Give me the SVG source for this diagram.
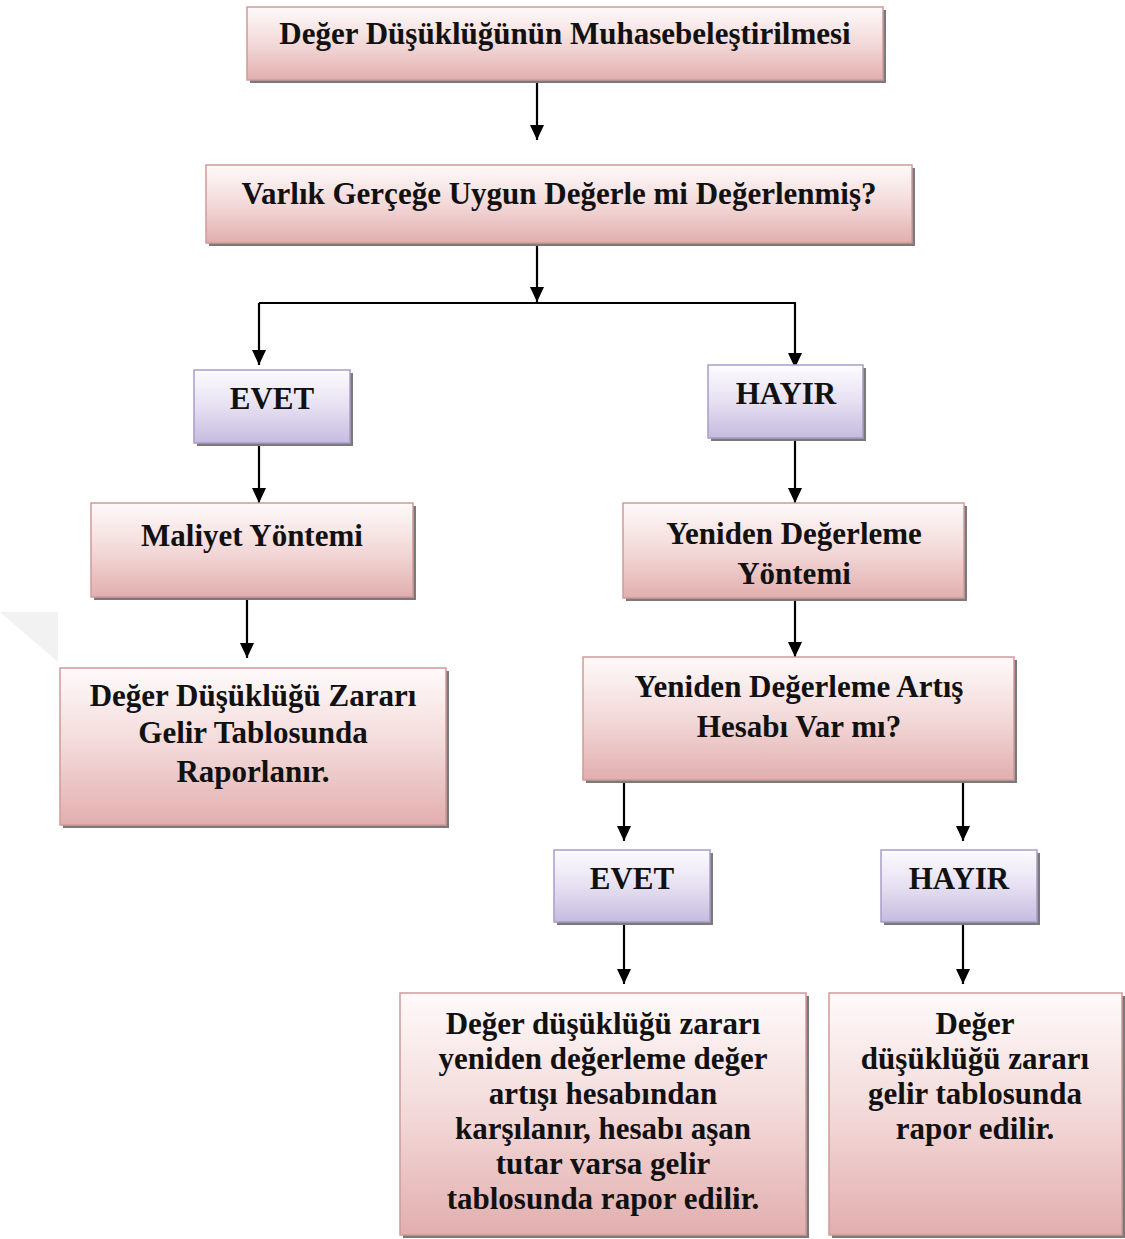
<svg xmlns="http://www.w3.org/2000/svg" width="1125" height="1239" viewBox="0 0 1125 1239">
<defs>
<linearGradient id="gPink" x1="0" y1="0" x2="0" y2="1">
<stop offset="0" stop-color="#fefafa"/>
<stop offset="0.5" stop-color="#f3d9d9"/>
<stop offset="1" stop-color="#e2aeae"/>
</linearGradient>
<linearGradient id="gPurple" x1="0" y1="0" x2="0" y2="1">
<stop offset="0" stop-color="#fdfcff"/>
<stop offset="0.5" stop-color="#e6e0f2"/>
<stop offset="1" stop-color="#c6bbdf"/>
</linearGradient>
<marker id="arr" viewBox="0 0 15 14" refX="15" refY="7" markerWidth="15" markerHeight="14" markerUnits="userSpaceOnUse" orient="auto">
<path d="M0,0 L15,7 L0,14 Z" fill="#000"/>
</marker>
</defs>
<style>
.shadow{fill:#7a7a7a;}
.pink{fill:url(#gPink);stroke:#cf9a9a;stroke-width:1.5;}
.purple{fill:url(#gPurple);stroke:#a99dc8;stroke-width:1.5;}
.t{font-family:"Liberation Serif","Times New Roman",serif;font-weight:bold;font-size:31px;fill:#111;text-anchor:middle;}
.c{fill:none;stroke:#000;stroke-width:2.2;}
</style>
<rect width="1125" height="1239" fill="#fff"/>
<polygon points="0,612 58,612 58,662" fill="#f2f2f2"/>

<g id="connectors">
<line class="c" x1="537" y1="82" x2="537" y2="140" marker-end="url(#arr)"/>
<line class="c" x1="537" y1="245" x2="537" y2="302" marker-end="url(#arr)"/>
<polyline class="c" points="259,303 795,303 795,368" marker-end="url(#arr)"/>
<line class="c" x1="259" y1="303" x2="259" y2="365" marker-end="url(#arr)"/>
<line class="c" x1="259" y1="445" x2="259" y2="503" marker-end="url(#arr)"/>
<line class="c" x1="795" y1="440" x2="795" y2="503" marker-end="url(#arr)"/>
<line class="c" x1="247" y1="598" x2="247" y2="658" marker-end="url(#arr)"/>
<line class="c" x1="795" y1="600" x2="795" y2="657" marker-end="url(#arr)"/>
<line class="c" x1="624" y1="782" x2="624" y2="841" marker-end="url(#arr)"/>
<line class="c" x1="963" y1="782" x2="963" y2="841" marker-end="url(#arr)"/>
<line class="c" x1="624" y1="924" x2="624" y2="984" marker-end="url(#arr)"/>
<line class="c" x1="963" y1="924" x2="963" y2="984" marker-end="url(#arr)"/>
</g>

<g id="n1">
<rect class="shadow" x="250" y="10" width="636" height="73"/>
<rect class="pink" x="247" y="7" width="636" height="73"/>
<text class="t" x="565" y="44">Değer Düşüklüğünün Muhasebeleştirilmesi</text>
</g>
<g id="n2">
<rect class="shadow" x="209" y="168" width="706" height="78"/>
<rect class="pink" x="206" y="165" width="706" height="78"/>
<text class="t" x="559" y="204">Varlık Gerçeğe Uygun Değerle mi Değerlenmiş?</text>
</g>
<g id="n3">
<rect class="shadow" x="197" y="373" width="156" height="73"/>
<rect class="purple" x="194" y="370" width="156" height="73"/>
<text class="t" x="272" y="409">EVET</text>
</g>
<g id="n4">
<rect class="shadow" x="711" y="368" width="155" height="73"/>
<rect class="purple" x="708" y="365" width="155" height="73"/>
<text class="t" x="786" y="404">HAYIR</text>
</g>
<g id="n5">
<rect class="shadow" x="94" y="506" width="322" height="94"/>
<rect class="pink" x="91" y="503" width="322" height="94"/>
<text class="t" x="252" y="546">Maliyet Yöntemi</text>
</g>
<g id="n6">
<rect class="shadow" x="626" y="506" width="341" height="95"/>
<rect class="pink" x="623" y="503" width="341" height="95"/>
<text class="t" x="794" y="544">Yeniden Değerleme</text>
<text class="t" x="794" y="584">Yöntemi</text>
</g>
<g id="n7">
<rect class="shadow" x="63" y="671" width="386" height="157"/>
<rect class="pink" x="60" y="668" width="386" height="157"/>
<text class="t" x="253" y="706">Değer Düşüklüğü Zararı</text>
<text class="t" x="253" y="743">Gelir Tablosunda</text>
<text class="t" x="253" y="782">Raporlanır.</text>
</g>
<g id="n8">
<rect class="shadow" x="586" y="660" width="431" height="123"/>
<rect class="pink" x="583" y="657" width="431" height="123"/>
<text class="t" x="799" y="697">Yeniden Değerleme Artış</text>
<text class="t" x="799" y="737">Hesabı Var mı?</text>
</g>
<g id="n9">
<rect class="shadow" x="557" y="853" width="156" height="72"/>
<rect class="purple" x="554" y="850" width="156" height="72"/>
<text class="t" x="632" y="889">EVET</text>
</g>
<g id="n10">
<rect class="shadow" x="884" y="853" width="156" height="72"/>
<rect class="purple" x="881" y="850" width="156" height="72"/>
<text class="t" x="959" y="889">HAYIR</text>
</g>
<g id="n11">
<rect class="shadow" x="403" y="996" width="406" height="242"/>
<rect class="pink" x="400" y="993" width="406" height="242"/>
<text class="t" x="603" y="1034">Değer düşüklüğü zararı</text>
<text class="t" x="603" y="1069">yeniden değerleme değer</text>
<text class="t" x="603" y="1104">artışı hesabından</text>
<text class="t" x="603" y="1139">karşılanır, hesabı aşan</text>
<text class="t" x="603" y="1174">tutar varsa gelir</text>
<text class="t" x="603" y="1209">tablosunda rapor edilir.</text>
</g>
<g id="n12">
<rect class="shadow" x="832" y="996" width="293" height="242"/>
<rect class="pink" x="829" y="993" width="293" height="242"/>
<text class="t" x="975" y="1034">Değer</text>
<text class="t" x="975" y="1069">düşüklüğü zararı</text>
<text class="t" x="975" y="1104">gelir tablosunda</text>
<text class="t" x="975" y="1139">rapor edilir.</text>
</g>
</svg>
